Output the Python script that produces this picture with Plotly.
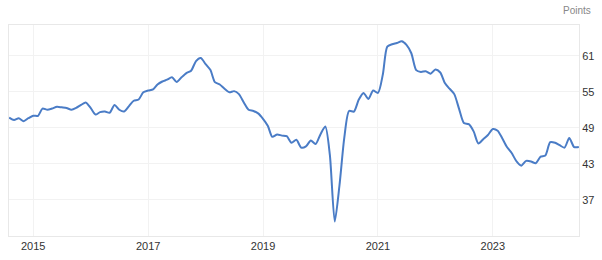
import plotly.graph_objects as go
import pandas as pd

start_month = "2014-08-01"
values = [
    # 2014 Aug-Dec
    50.7, 50.3, 50.6, 50.1, 50.6,
    # 2015
    51.0, 51.0, 52.2, 52.0, 52.2, 52.5, 52.4, 52.3, 52.0, 52.3, 52.8, 53.2,
    # 2016
    52.3, 51.2, 51.6, 51.7, 51.5, 52.8, 52.0, 51.7, 52.6, 53.5, 53.7, 54.9,
    # 2017
    55.2, 55.4, 56.2, 56.7, 57.0, 57.4, 56.6, 57.4, 58.1, 58.5, 60.1, 60.6,
    # 2018
    59.6, 58.6, 56.6, 56.2, 55.5, 54.9, 55.1, 54.6, 53.2, 52.0, 51.8, 51.4,
    # 2019
    50.5, 49.3, 47.5, 47.9, 47.7, 47.6, 46.5, 47.0, 45.7, 45.9, 46.9, 46.3,
    # 2020
    47.9, 49.2, 44.5, 33.4, 39.4, 47.4, 51.8, 51.7, 53.7, 54.8, 53.8, 55.2,
    # 2021
    54.8, 57.9, 62.5, 62.9, 63.1, 63.4, 62.8, 61.4, 58.6, 58.3, 58.4, 58.0,
    # 2022
    58.7, 58.2, 56.5, 55.5, 54.6, 52.1, 49.8, 49.6, 48.4, 46.4, 47.1, 47.8,
    # 2023
    48.8, 48.5, 47.3, 45.8, 44.8, 43.4, 42.7, 43.5, 43.4, 43.1, 44.2, 44.4,
    # 2024
    46.6, 46.5, 46.1, 45.7, 47.3, 45.8, 45.8,
]
dates = pd.date_range(start_month, periods=len(values), freq="MS")

y_ticks = [37, 43, 49, 55, 61]
y_range = [31.0, 66.1]
x_range = ["2014-07-31", "2024-07-02"]
unit_label = "Points"

fig = go.Figure()
fig.add_trace(go.Scatter(
    x=dates, y=values, mode="lines",
    line=dict(color="#4a7cc6", width=2, shape="spline", smoothing=0.7),
    hoverinfo="skip", showlegend=False,
))

fig.update_layout(
    width=602, height=260,
    margin=dict(l=8, r=21, t=25, b=23),
    paper_bgcolor="white", plot_bgcolor="white",
    font=dict(family="Liberation Sans, Arial, sans-serif", size=11, color="#333333"),
    xaxis=dict(
        range=x_range, type="date",
        tick0="2015-01-01", dtick="M24", tickformat="%Y",
        showgrid=True, gridcolor="#f2f2f2", gridwidth=1,
        showline=True, linecolor="#e8e8e8", linewidth=1, mirror=True,
        ticks="", zeroline=False,
        tickfont=dict(size=11, color="#333333"),
    ),
    yaxis=dict(
        range=y_range, side="right",
        tickvals=y_ticks, ticktext=[str(v) for v in y_ticks],
        showgrid=True, gridcolor="#f2f2f2", gridwidth=1,
        showline=True, linecolor="#e8e8e8", linewidth=1, mirror=True,
        ticks="", zeroline=False,
        tickfont=dict(size=11, color="#333333"),
    ),
    annotations=[dict(
        text=unit_label, xref="paper", yref="paper",
        x=1.0, y=1.0, xanchor="right", yanchor="bottom",
        xshift=14, yshift=7, showarrow=False,
        font=dict(size=10, color="#888888"),
    )],
)

fig.write_html("out.html")
